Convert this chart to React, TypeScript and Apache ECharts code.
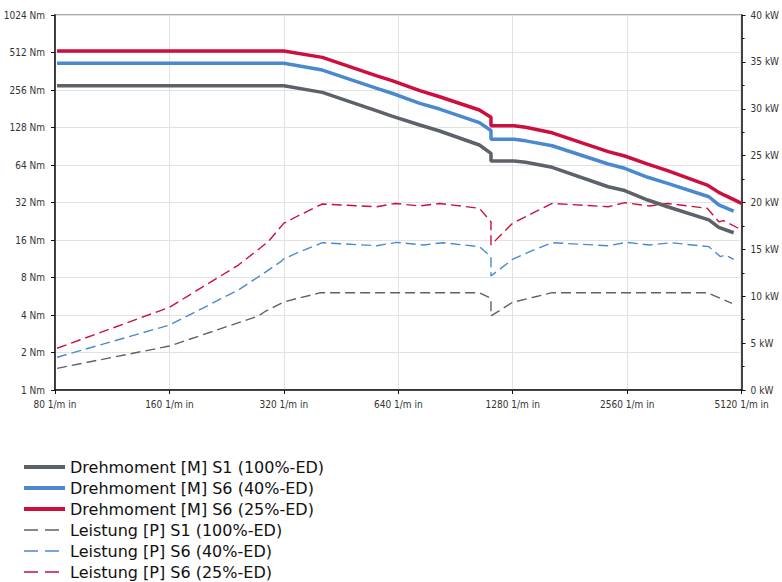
import React, { useEffect, useRef } from "react";
import * as echarts from "echarts";

// ---- data ----
const xTickLabels = ["80 1/m in", "160 1/m in", "320 1/m in", "640 1/m in", "1280 1/m in", "2560 1/m in", "5120 1/m in"];
const yTickLabels = ["1 Nm", "2 Nm", "4 Nm", "8 Nm", "16 Nm", "32 Nm", "64 Nm", "128 Nm", "256 Nm", "512 Nm", "1024 Nm"];

const torqueRpm = [81, 320, 404, 562, 616, 729, 822, 1046, 1122, 1122, 1290, 1384, 1625, 2282, 2522, 2900, 3270, 4200, 4460, 4880];
const torqueS1 = [277, 277, 245, 174, 158, 134, 120, 92.6, 79.4, 68.9, 68.9, 67.3, 61.3, 42.8, 39.9, 33.5, 29.6, 23.2, 20.2, 18.3];
const torqueS6_40 = [419, 419, 370, 264, 241, 200, 180, 140, 121, 103, 103, 100, 91.4, 65.2, 60.2, 51, 45.6, 35.6, 30.6, 27.3];

const torqueS6_25Rpm = [81, 320, 404, 562, 616, 729, 822, 1046, 1122, 1122, 1290, 1384, 1625, 2282, 2522, 2900, 3270, 4158, 4460, 4600, 5120];
const torqueS6_25 = [526, 526, 468, 332, 304, 253, 226, 177, 155, 132, 132, 128.5, 116, 82, 75.6, 65, 57.6, 44.2, 38.6, 36.8, 31.5];

const powerS1Rpm = [81, 160, 274, 285, 320, 348, 400, 1046, 1122, 1122, 1278, 1470, 1625, 4158, 4832];
const powerS1 = [2.31, 4.69, 7.89, 8.35, 9.39, 9.78, 10.38, 10.38, 9.78, 7.89, 9.35, 9.95, 10.38, 10.38, 9.25];

const powerS6_40Rpm = [81, 160, 243, 279, 314, 320, 348, 404, 562, 634, 745, 839, 1046, 1122, 1122, 1278, 1470, 1625, 2282, 2548, 2930, 3338, 4200, 4504, 4643, 4880];
const powerS6_40 = [3.49, 6.93, 10.67, 12.27, 13.69, 14.0, 14.65, 15.71, 15.39, 15.75, 15.47, 15.71, 15.29, 14.22, 12.16, 13.94, 15.01, 15.71, 15.39, 15.75, 15.47, 15.71, 15.29, 14.22, 14.4, 13.94];

const powerS6_25Rpm = [81, 160, 243, 291, 320, 348, 404, 562, 628, 729, 822, 1046, 1122, 1122, 1278, 1470, 1625, 2282, 2522, 2930, 3270, 4158, 4460, 4596, 5120];
const powerS6_25 = [4.45, 8.82, 13.33, 15.82, 17.8, 18.56, 19.84, 19.55, 19.9, 19.63, 19.9, 19.38, 17.95, 15.47, 17.78, 19.02, 19.9, 19.55, 19.98, 19.63, 19.9, 19.38, 17.95, 18.06, 17.07];

const names = [
  "Drehmoment [M] S1 (100%-ED)",
  "Drehmoment [M] S6 (40%-ED)",
  "Drehmoment [M] S6 (25%-ED)",
  "Leistung [P] S1 (100%-ED)",
  "Leistung [P] S6 (40%-ED)",
  "Leistung [P] S6 (25%-ED)",
];

const GRAY = "#5d6268";
const BLUE = "#4a89d0";
const RED = "#cc0f3e";

const zip = (xs: number[], ys: number[]) => xs.map((x, i) => [x, ys[i]]);

const axisFont = {
  fontFamily: "'Liberation Sans Narrow', 'DejaVu Sans Condensed', sans-serif",
  fontSize: 10,
  color: "#333",
};

const hiddenAxis = {
  axisLine: { show: false },
  axisTick: { show: false },
  axisLabel: { show: false },
  splitLine: { show: false },
};

export default function App() {
  const ref = useRef<HTMLDivElement>(null);
  useEffect(() => {
    if (!ref.current) return;
    const chart = echarts.init(ref.current, undefined, { renderer: "svg" });
    const solid = (name: string, color: string, data: number[][]) => ({
      name,
      type: "line",
      xAxisIndex: 0,
      yAxisIndex: 0,
      data,
      showSymbol: false,
      symbol: "none",
      color,
      lineStyle: { color, width: 3.5 },
    });
    const dashed = (name: string, color: string, data: number[][]) => ({
      name,
      type: "line",
      xAxisIndex: 0,
      yAxisIndex: 1,
      data,
      showSymbol: false,
      symbol: "none",
      color,
      lineStyle: { color, width: 1.4, type: [10, 5] },
    });
    const legendColors = [GRAY, BLUE, RED, GRAY, BLUE, RED];
    chart.setOption({
      animation: false,
      grid: {
        left: 55,
        right: 34,
        top: 15,
        bottom: 192,
        show: true,
        borderColor: "#8c8c8c",
        borderWidth: 1.5,
        backgroundColor: "transparent",
      },
      legend: {
        orient: "vertical",
        left: 22,
        top: 459,
        height: 200,
        padding: 0,
        itemWidth: 41,
        itemHeight: 16,
        itemGap: 5,
        data: names.map((name, i) =>
          i < 3
            ? { name, lineStyle: { width: 4, color: legendColors[i] } }
            : { name, lineStyle: { width: 1.6, type: [14, 7], color: legendColors[i] } }
        ),
        itemStyle: { opacity: 0 },
        textStyle: { fontFamily: "'DejaVu Sans', sans-serif", fontSize: 16, lineHeight: 16, color: "#111" },
      },
      xAxis: [
        { type: "log", logBase: 2, min: 80, max: 5120, ...hiddenAxis },
        {
          type: "value",
          position: "bottom",
          min: 0,
          max: 6,
          interval: 1,
          axisLine: { show: true, lineStyle: { color: "#111", width: 1.5 } },
          axisTick: { show: true, length: 4, lineStyle: { color: "#111" } },
          axisLabel: { ...axisFont, margin: 9, formatter: (v: number) => xTickLabels[Math.round(v)] },
          splitLine: { show: true, lineStyle: { color: "#e2e2e2", width: 1 } },
        },
      ],
      yAxis: [
        { type: "log", logBase: 2, min: 1, max: 1024, ...hiddenAxis },
        {
          type: "value",
          position: "right",
          min: 0,
          max: 40,
          interval: 5,
          axisLine: { show: true, lineStyle: { color: "#111", width: 1.5 } },
          axisTick: { show: true, length: 4, lineStyle: { color: "#111" } },
          minorTick: { show: true, splitNumber: 2, length: 3, lineStyle: { color: "#111" } },
          axisLabel: { ...axisFont, margin: 9, formatter: (v: number) => `${v} kW` },
          splitLine: { show: false },
        },
        {
          type: "value",
          position: "left",
          min: 0,
          max: 10,
          interval: 1,
          axisLine: { show: true, lineStyle: { color: "#111", width: 1.5 } },
          axisTick: { show: true, length: 4, lineStyle: { color: "#111" } },
          axisLabel: { ...axisFont, margin: 10, formatter: (v: number) => yTickLabels[Math.round(v)] },
          splitLine: { show: true, lineStyle: { color: "#e2e2e2", width: 1 } },
        },
      ],
      series: [
        dashed(names[3], GRAY, zip(powerS1Rpm, powerS1)),
        dashed(names[4], BLUE, zip(powerS6_40Rpm, powerS6_40)),
        dashed(names[5], RED, zip(powerS6_25Rpm, powerS6_25)),
        solid(names[0], GRAY, zip(torqueRpm, torqueS1)),
        solid(names[1], BLUE, zip(torqueRpm, torqueS6_40)),
        solid(names[2], RED, zip(torqueS6_25Rpm, torqueS6_25)),
      ],
    });
    return () => chart.dispose();
  }, []);
  return <div ref={ref} style={{ width: 782, height: 582, position: "absolute", left: 0, top: 0 }} />;
}
